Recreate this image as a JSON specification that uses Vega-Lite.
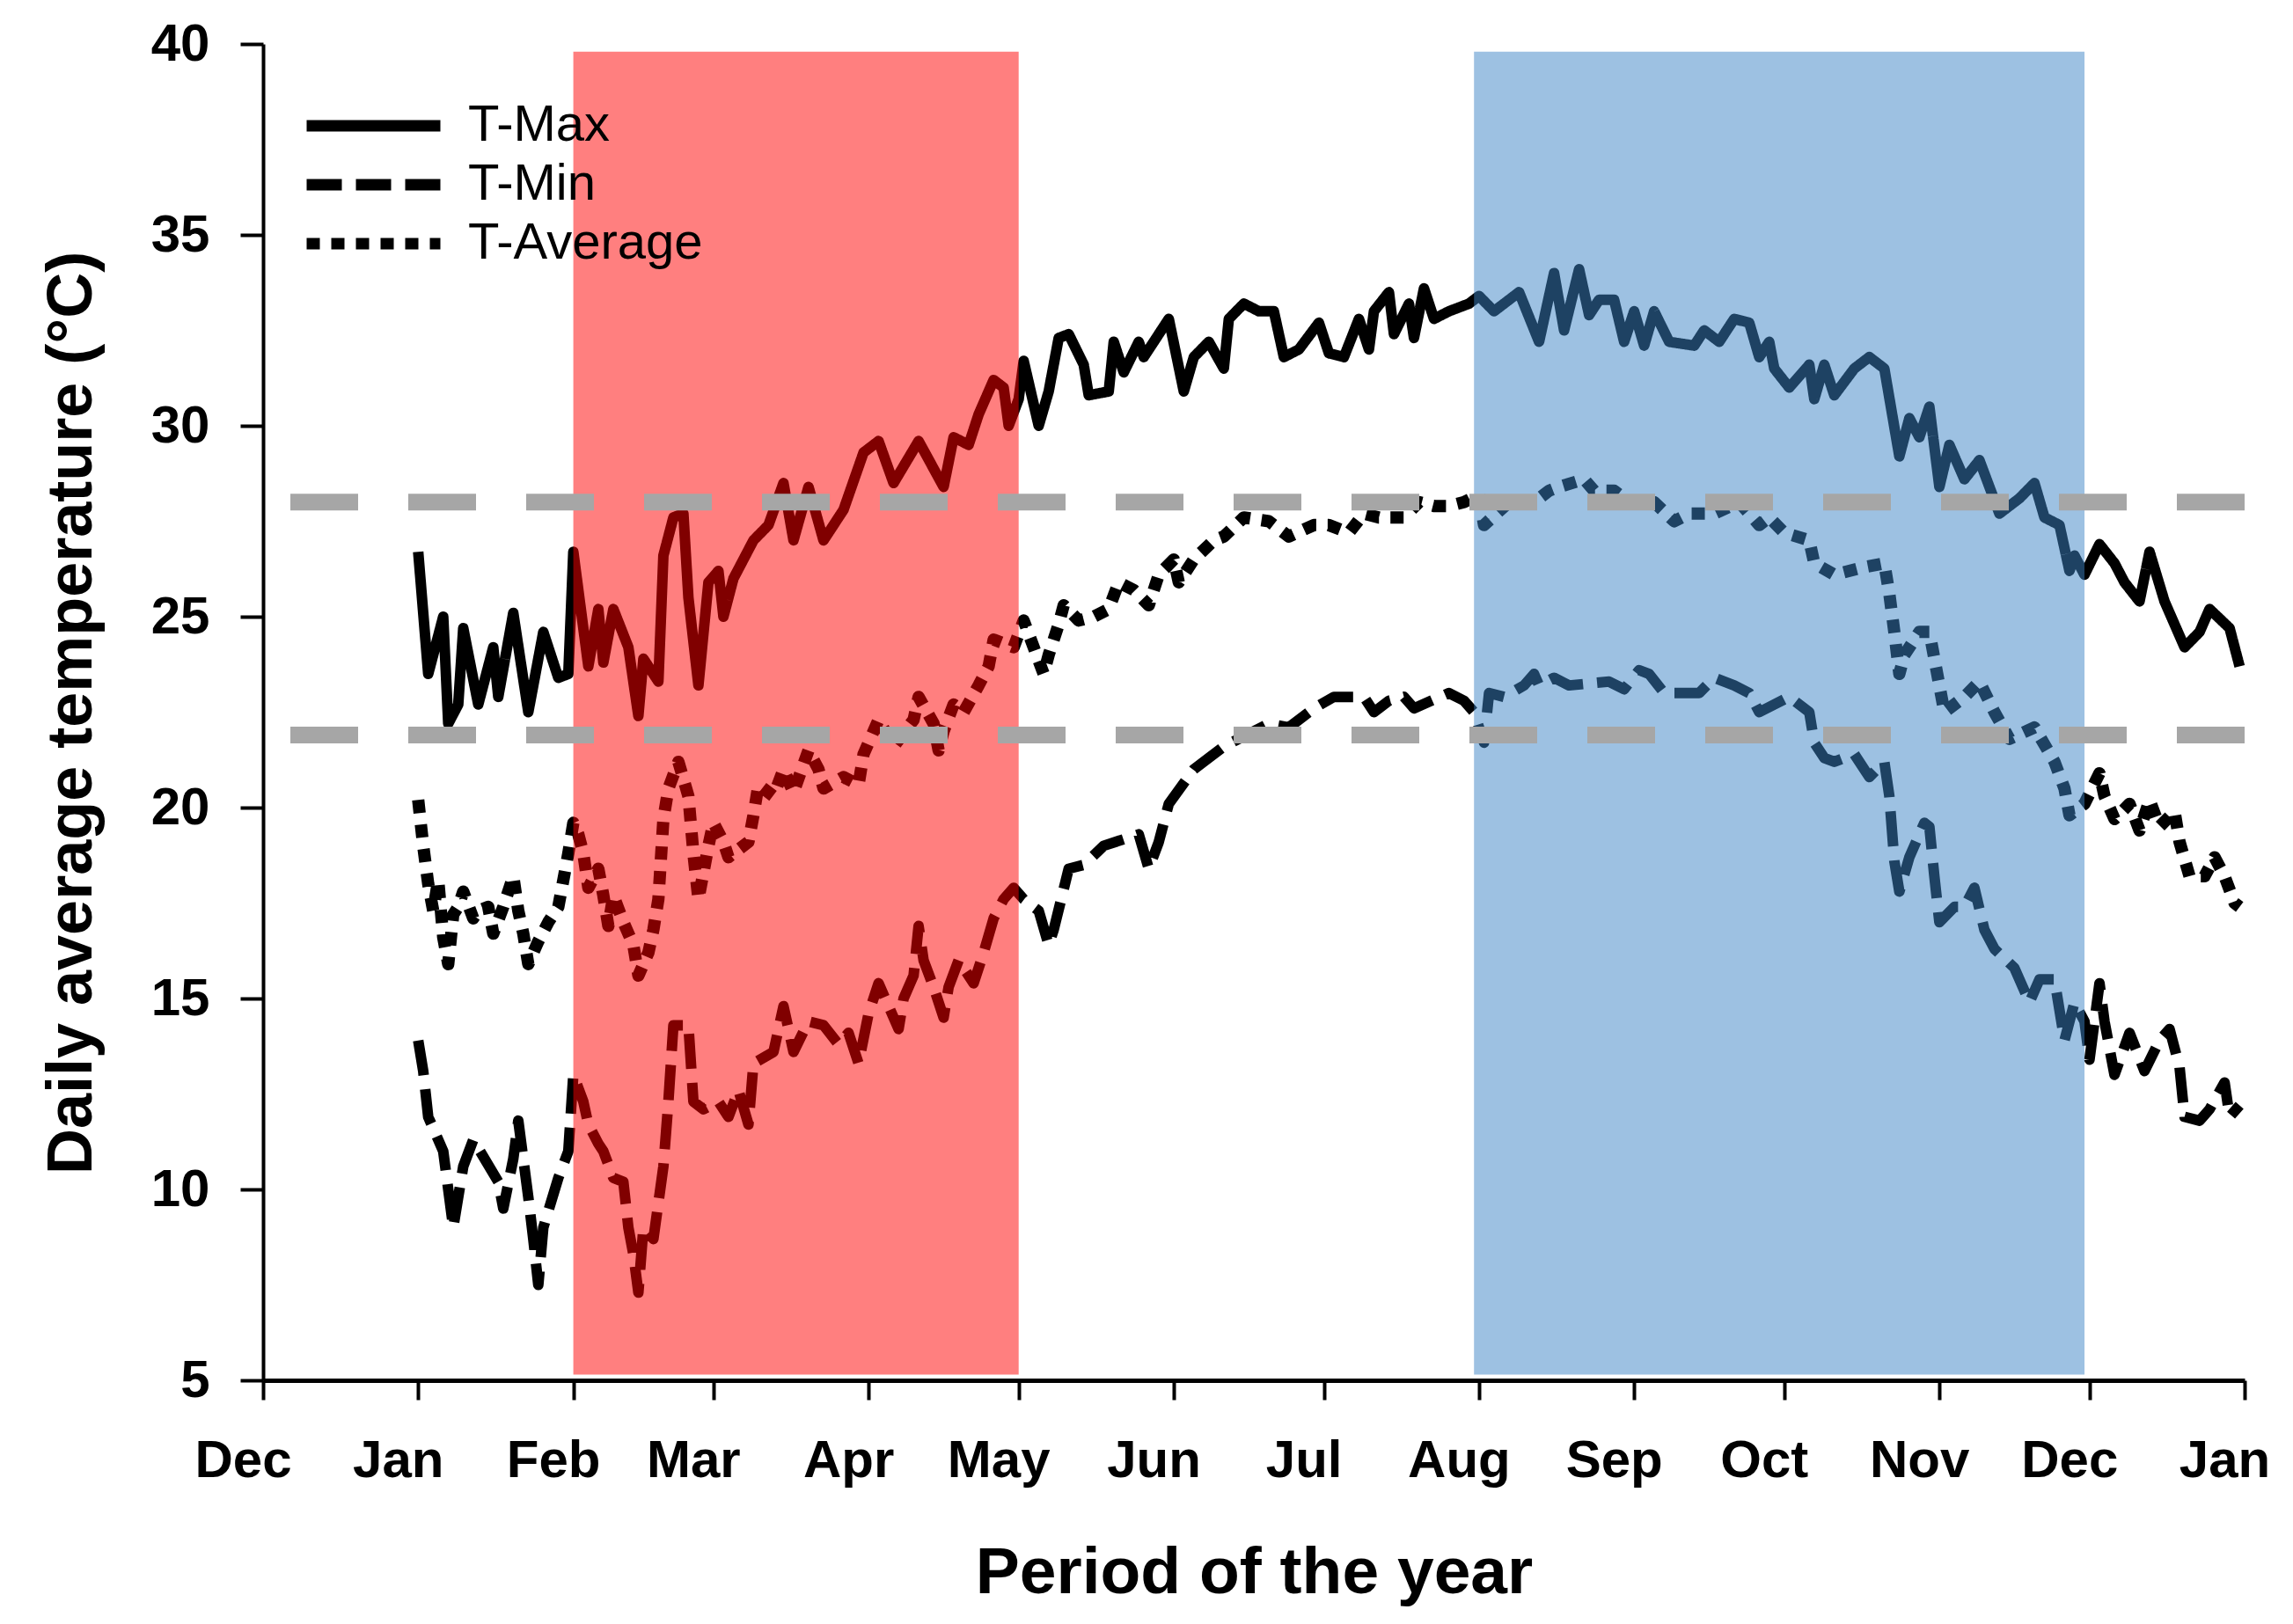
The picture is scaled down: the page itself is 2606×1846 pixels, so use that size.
{
 "$schema": "https://vega.github.io/schema/vega-lite/v6.json",
 "width": 2252,
 "height": 1519,
 "autosize": {"type": "none"},
 "padding": {"left": 299, "top": 50, "right": 55, "bottom": 277},
 "background": "white",
 "config": {"view": {"stroke": null}, "font": "Liberation Sans"},
 "datasets": {
  "tmax": [
   {"date":"2015-01-01","t":26.7},{"date":"2015-01-03","t":23.5},{"date":"2015-01-06","t":25.0},{"date":"2015-01-07","t":22.2},{"date":"2015-01-09","t":22.7},{"date":"2015-01-10","t":24.7},{"date":"2015-01-13","t":22.7},{"date":"2015-01-16","t":24.2},{"date":"2015-01-17","t":22.9},{"date":"2015-01-20","t":25.1},{"date":"2015-01-23","t":22.5},{"date":"2015-01-26","t":24.6},{"date":"2015-01-29","t":23.4},{"date":"2015-01-31","t":23.5},
   {"date":"2015-02-01","t":26.7},{"date":"2015-02-03","t":24.7},{"date":"2015-02-04","t":23.7},{"date":"2015-02-06","t":25.2},{"date":"2015-02-07","t":23.8},{"date":"2015-02-09","t":25.2},{"date":"2015-02-12","t":24.2},{"date":"2015-02-14","t":22.4},{"date":"2015-02-15","t":23.9},{"date":"2015-02-18","t":23.3},{"date":"2015-02-19","t":26.6},{"date":"2015-02-21","t":27.6},{"date":"2015-02-23","t":27.7},{"date":"2015-02-24","t":25.5},{"date":"2015-02-26","t":23.2},{"date":"2015-02-28","t":25.9},
   {"date":"2015-03-02","t":26.2},{"date":"2015-03-03","t":25.0},{"date":"2015-03-05","t":26.0},{"date":"2015-03-09","t":27.0},{"date":"2015-03-12","t":27.4},{"date":"2015-03-15","t":28.5},{"date":"2015-03-17","t":27.0},{"date":"2015-03-20","t":28.4},{"date":"2015-03-23","t":27.0},{"date":"2015-03-27","t":27.8},{"date":"2015-03-31","t":29.3},
   {"date":"2015-04-03","t":29.6},{"date":"2015-04-06","t":28.5},{"date":"2015-04-11","t":29.6},{"date":"2015-04-16","t":28.4},{"date":"2015-04-18","t":29.7},{"date":"2015-04-21","t":29.5},{"date":"2015-04-23","t":30.3},{"date":"2015-04-26","t":31.2},{"date":"2015-04-28","t":31.0},{"date":"2015-04-29","t":30.0},
   {"date":"2015-05-01","t":30.7},{"date":"2015-05-02","t":31.7},{"date":"2015-05-05","t":30.0},{"date":"2015-05-07","t":30.9},{"date":"2015-05-09","t":32.3},{"date":"2015-05-11","t":32.4},{"date":"2015-05-14","t":31.6},{"date":"2015-05-15","t":30.8},{"date":"2015-05-19","t":30.9},{"date":"2015-05-20","t":32.2},{"date":"2015-05-22","t":31.4},{"date":"2015-05-25","t":32.2},{"date":"2015-05-26","t":31.8},{"date":"2015-05-31","t":32.8},
   {"date":"2015-06-03","t":30.9},{"date":"2015-06-05","t":31.8},{"date":"2015-06-08","t":32.2},{"date":"2015-06-11","t":31.5},{"date":"2015-06-12","t":32.8},{"date":"2015-06-15","t":33.2},{"date":"2015-06-18","t":33.0},{"date":"2015-06-21","t":33.0},{"date":"2015-06-23","t":31.8},{"date":"2015-06-26","t":32.0},{"date":"2015-06-30","t":32.7},
   {"date":"2015-07-02","t":31.9},{"date":"2015-07-05","t":31.8},{"date":"2015-07-08","t":32.8},{"date":"2015-07-10","t":32.0},{"date":"2015-07-11","t":33.0},{"date":"2015-07-14","t":33.5},{"date":"2015-07-15","t":32.4},{"date":"2015-07-18","t":33.2},{"date":"2015-07-19","t":32.3},{"date":"2015-07-21","t":33.6},{"date":"2015-07-23","t":32.8},{"date":"2015-07-26","t":33.0},{"date":"2015-07-30","t":33.2},
   {"date":"2015-08-01","t":33.4},{"date":"2015-08-04","t":33.0},{"date":"2015-08-09","t":33.5},{"date":"2015-08-13","t":32.2},{"date":"2015-08-16","t":34.0},{"date":"2015-08-18","t":32.5},{"date":"2015-08-21","t":34.1},{"date":"2015-08-23","t":32.9},{"date":"2015-08-25","t":33.3},{"date":"2015-08-28","t":33.3},{"date":"2015-08-30","t":32.2},
   {"date":"2015-09-01","t":33.0},{"date":"2015-09-03","t":32.1},{"date":"2015-09-05","t":33.0},{"date":"2015-09-08","t":32.2},{"date":"2015-09-13","t":32.1},{"date":"2015-09-15","t":32.5},{"date":"2015-09-18","t":32.2},{"date":"2015-09-21","t":32.8},{"date":"2015-09-24","t":32.7},{"date":"2015-09-26","t":31.8},{"date":"2015-09-28","t":32.2},{"date":"2015-09-29","t":31.5},
   {"date":"2015-10-02","t":31.0},{"date":"2015-10-06","t":31.6},{"date":"2015-10-07","t":30.7},{"date":"2015-10-09","t":31.6},{"date":"2015-10-11","t":30.8},{"date":"2015-10-15","t":31.5},{"date":"2015-10-18","t":31.8},{"date":"2015-10-21","t":31.5},{"date":"2015-10-24","t":29.2},{"date":"2015-10-26","t":30.2},{"date":"2015-10-28","t":29.7},{"date":"2015-10-30","t":30.5},
   {"date":"2015-11-01","t":28.4},{"date":"2015-11-03","t":29.5},{"date":"2015-11-06","t":28.6},{"date":"2015-11-09","t":29.1},{"date":"2015-11-13","t":27.7},{"date":"2015-11-17","t":28.1},{"date":"2015-11-20","t":28.5},{"date":"2015-11-22","t":27.6},{"date":"2015-11-25","t":27.4},{"date":"2015-11-27","t":26.2},{"date":"2015-11-28","t":26.6},{"date":"2015-11-30","t":26.1},
   {"date":"2015-12-03","t":26.9},{"date":"2015-12-06","t":26.4},{"date":"2015-12-08","t":25.9},{"date":"2015-12-11","t":25.4},{"date":"2015-12-13","t":26.7},{"date":"2015-12-16","t":25.4},{"date":"2015-12-20","t":24.2},{"date":"2015-12-23","t":24.6},{"date":"2015-12-25","t":25.2},{"date":"2015-12-29","t":24.7},{"date":"2015-12-31","t":23.7}
  ],
  "tmin": [
   {"date":"2015-01-01","t":13.9},{"date":"2015-01-02","t":13.1},{"date":"2015-01-03","t":11.9},{"date":"2015-01-04","t":11.6},{"date":"2015-01-06","t":11.0},{"date":"2015-01-07","t":10.0},{"date":"2015-01-08","t":9.0},{"date":"2015-01-10","t":10.6},{"date":"2015-01-12","t":11.3},{"date":"2015-01-17","t":10.2},{"date":"2015-01-18","t":9.5},{"date":"2015-01-20","t":10.8},{"date":"2015-01-21","t":11.8},{"date":"2015-01-23","t":9.8},{"date":"2015-01-24","t":8.7},{"date":"2015-01-25","t":7.5},{"date":"2015-01-26","t":9.0},{"date":"2015-01-29","t":10.3},{"date":"2015-01-31","t":11.0},
   {"date":"2015-02-01","t":13.0},{"date":"2015-02-03","t":12.3},{"date":"2015-02-04","t":11.7},{"date":"2015-02-06","t":11.2},{"date":"2015-02-07","t":11.0},{"date":"2015-02-09","t":10.3},{"date":"2015-02-11","t":10.2},{"date":"2015-02-12","t":9.0},{"date":"2015-02-13","t":8.3},{"date":"2015-02-14","t":7.3},{"date":"2015-02-15","t":9.0},{"date":"2015-02-17","t":8.7},{"date":"2015-02-19","t":10.6},{"date":"2015-02-20","t":12.3},{"date":"2015-02-21","t":14.3},{"date":"2015-02-24","t":14.3},{"date":"2015-02-25","t":12.3},{"date":"2015-02-27","t":12.1},
   {"date":"2015-03-02","t":12.3},{"date":"2015-03-04","t":11.9},{"date":"2015-03-06","t":12.6},{"date":"2015-03-08","t":11.7},{"date":"2015-03-09","t":13.3},{"date":"2015-03-13","t":13.6},{"date":"2015-03-15","t":14.8},{"date":"2015-03-17","t":13.6},{"date":"2015-03-20","t":14.4},{"date":"2015-03-23","t":14.3},{"date":"2015-03-26","t":13.8},{"date":"2015-03-28","t":14.1},{"date":"2015-03-30","t":13.3},
   {"date":"2015-04-01","t":14.6},{"date":"2015-04-03","t":15.4},{"date":"2015-04-06","t":14.5},{"date":"2015-04-07","t":14.2},{"date":"2015-04-08","t":15.0},{"date":"2015-04-10","t":15.6},{"date":"2015-04-11","t":16.9},{"date":"2015-04-12","t":16.0},{"date":"2015-04-14","t":15.3},{"date":"2015-04-16","t":14.5},{"date":"2015-04-17","t":15.3},{"date":"2015-04-19","t":16.0},{"date":"2015-04-22","t":15.4},{"date":"2015-04-24","t":16.2},{"date":"2015-04-26","t":17.1},{"date":"2015-04-28","t":17.6},{"date":"2015-04-30","t":17.9},
   {"date":"2015-05-02","t":17.6},{"date":"2015-05-05","t":17.3},{"date":"2015-05-07","t":16.4},{"date":"2015-05-08","t":16.8},{"date":"2015-05-11","t":18.4},{"date":"2015-05-14","t":18.5},{"date":"2015-05-18","t":19.0},{"date":"2015-05-25","t":19.3},{"date":"2015-05-27","t":18.4},{"date":"2015-05-29","t":19.1},{"date":"2015-05-31","t":20.1},
   {"date":"2015-06-05","t":21.0},{"date":"2015-06-08","t":21.3},{"date":"2015-06-11","t":21.6},{"date":"2015-06-20","t":22.2},{"date":"2015-06-24","t":22.1},{"date":"2015-06-29","t":22.6},
   {"date":"2015-07-03","t":22.9},{"date":"2015-07-09","t":22.9},{"date":"2015-07-11","t":22.5},{"date":"2015-07-14","t":22.8},{"date":"2015-07-17","t":22.9},{"date":"2015-07-19","t":22.6},{"date":"2015-07-26","t":23.0},{"date":"2015-07-29","t":22.8},{"date":"2015-07-31","t":22.5},
   {"date":"2015-08-02","t":21.7},{"date":"2015-08-03","t":23.0},{"date":"2015-08-06","t":22.9},{"date":"2015-08-10","t":23.2},{"date":"2015-08-12","t":23.5},{"date":"2015-08-13","t":23.2},{"date":"2015-08-16","t":23.4},{"date":"2015-08-19","t":23.2},{"date":"2015-08-27","t":23.3},{"date":"2015-08-30","t":23.1},
   {"date":"2015-09-02","t":23.6},{"date":"2015-09-04","t":23.5},{"date":"2015-09-07","t":23.0},{"date":"2015-09-09","t":23.0},{"date":"2015-09-14","t":23.0},{"date":"2015-09-17","t":23.4},{"date":"2015-09-21","t":23.2},{"date":"2015-09-24","t":23.0},{"date":"2015-09-26","t":22.5},
   {"date":"2015-10-02","t":22.9},{"date":"2015-10-06","t":22.5},{"date":"2015-10-07","t":21.7},{"date":"2015-10-09","t":21.3},{"date":"2015-10-11","t":21.2},{"date":"2015-10-15","t":21.4},{"date":"2015-10-18","t":20.8},{"date":"2015-10-21","t":21.2},{"date":"2015-10-22","t":20.3},{"date":"2015-10-23","t":18.6},{"date":"2015-10-24","t":17.8},{"date":"2015-10-26","t":18.7},{"date":"2015-10-29","t":19.6},{"date":"2015-10-30","t":19.5},{"date":"2015-10-31","t":18.2},
   {"date":"2015-11-01","t":17.0},{"date":"2015-11-04","t":17.4},{"date":"2015-11-06","t":17.4},{"date":"2015-11-08","t":17.9},{"date":"2015-11-10","t":16.8},{"date":"2015-11-12","t":16.3},{"date":"2015-11-16","t":15.8},{"date":"2015-11-19","t":14.9},{"date":"2015-11-21","t":15.5},{"date":"2015-11-24","t":15.5},{"date":"2015-11-25","t":14.7},{"date":"2015-11-26","t":13.9},{"date":"2015-11-28","t":14.9},{"date":"2015-11-30","t":14.4},
   {"date":"2015-12-01","t":13.4},{"date":"2015-12-03","t":15.4},{"date":"2015-12-04","t":14.4},{"date":"2015-12-06","t":13.0},{"date":"2015-12-09","t":14.1},{"date":"2015-12-12","t":13.1},{"date":"2015-12-15","t":13.9},{"date":"2015-12-17","t":14.2},{"date":"2015-12-19","t":13.2},{"date":"2015-12-20","t":11.9},{"date":"2015-12-23","t":11.8},{"date":"2015-12-25","t":12.1},{"date":"2015-12-28","t":12.8},{"date":"2015-12-29","t":11.9},{"date":"2015-12-31","t":12.2}
  ],
  "tavg": [
   {"date":"2015-01-01","t":20.2},{"date":"2015-01-02","t":19.0},{"date":"2015-01-03","t":18.0},{"date":"2015-01-04","t":17.3},{"date":"2015-01-05","t":18.1},{"date":"2015-01-06","t":16.6},{"date":"2015-01-07","t":15.9},{"date":"2015-01-08","t":17.2},{"date":"2015-01-09","t":17.4},{"date":"2015-01-10","t":17.8},{"date":"2015-01-12","t":17.1},{"date":"2015-01-13","t":17.3},{"date":"2015-01-15","t":17.4},{"date":"2015-01-16","t":16.7},{"date":"2015-01-18","t":17.4},{"date":"2015-01-20","t":18.2},{"date":"2015-01-21","t":17.3},{"date":"2015-01-22","t":16.7},{"date":"2015-01-23","t":15.9},{"date":"2015-01-25","t":16.5},{"date":"2015-01-27","t":17.0},{"date":"2015-01-29","t":17.4},{"date":"2015-01-30","t":18.1},{"date":"2015-01-31","t":18.8},
   {"date":"2015-02-01","t":19.6},{"date":"2015-02-02","t":19.3},{"date":"2015-02-03","t":18.8},{"date":"2015-02-04","t":17.9},{"date":"2015-02-06","t":18.4},{"date":"2015-02-07","t":17.7},{"date":"2015-02-08","t":16.9},{"date":"2015-02-09","t":17.7},{"date":"2015-02-11","t":17.0},{"date":"2015-02-13","t":16.4},{"date":"2015-02-14","t":15.6},{"date":"2015-02-16","t":16.2},{"date":"2015-02-17","t":16.8},{"date":"2015-02-18","t":17.6},{"date":"2015-02-19","t":19.7},{"date":"2015-02-20","t":20.5},{"date":"2015-02-22","t":21.2},{"date":"2015-02-24","t":20.3},{"date":"2015-02-25","t":18.8},{"date":"2015-02-26","t":17.6},{"date":"2015-02-28","t":19.0},
   {"date":"2015-03-01","t":19.6},{"date":"2015-03-03","t":19.1},{"date":"2015-03-04","t":18.7},{"date":"2015-03-08","t":19.1},{"date":"2015-03-09","t":19.8},{"date":"2015-03-10","t":20.6},{"date":"2015-03-13","t":20.3},{"date":"2015-03-15","t":21.0},{"date":"2015-03-17","t":20.4},{"date":"2015-03-20","t":21.5},{"date":"2015-03-22","t":21.0},{"date":"2015-03-23","t":20.5},{"date":"2015-03-27","t":20.8},{"date":"2015-03-30","t":20.6},{"date":"2015-03-31","t":21.4},
   {"date":"2015-04-03","t":22.3},{"date":"2015-04-06","t":21.6},{"date":"2015-04-10","t":22.3},{"date":"2015-04-11","t":22.9},{"date":"2015-04-14","t":22.2},{"date":"2015-04-15","t":21.5},{"date":"2015-04-16","t":22.0},{"date":"2015-04-18","t":22.7},{"date":"2015-04-20","t":22.5},{"date":"2015-04-23","t":23.2},{"date":"2015-04-25","t":23.7},{"date":"2015-04-26","t":24.4},{"date":"2015-04-30","t":24.2},
   {"date":"2015-05-02","t":24.9},{"date":"2015-05-04","t":24.2},{"date":"2015-05-06","t":23.5},{"date":"2015-05-07","t":24.0},{"date":"2015-05-09","t":24.8},{"date":"2015-05-10","t":25.3},{"date":"2015-05-13","t":24.9},{"date":"2015-05-16","t":25.0},{"date":"2015-05-19","t":25.2},{"date":"2015-05-21","t":25.9},{"date":"2015-05-24","t":25.7},{"date":"2015-05-27","t":25.3},{"date":"2015-05-29","t":26.1},
   {"date":"2015-06-01","t":26.5},{"date":"2015-06-02","t":25.9},{"date":"2015-06-05","t":26.5},{"date":"2015-06-09","t":27.0},{"date":"2015-06-11","t":27.1},{"date":"2015-06-15","t":27.6},{"date":"2015-06-20","t":27.5},{"date":"2015-06-24","t":27.1},{"date":"2015-06-29","t":27.4},
   {"date":"2015-07-02","t":27.4},{"date":"2015-07-06","t":27.2},{"date":"2015-07-09","t":27.7},{"date":"2015-07-12","t":27.6},{"date":"2015-07-17","t":27.6},{"date":"2015-07-20","t":28.0},{"date":"2015-07-23","t":27.9},{"date":"2015-07-26","t":27.9},{"date":"2015-07-29","t":28.0},
   {"date":"2015-08-01","t":28.2},{"date":"2015-08-02","t":27.4},{"date":"2015-08-07","t":28.0},{"date":"2015-08-12","t":28.0},{"date":"2015-08-15","t":28.3},{"date":"2015-08-17","t":28.4},{"date":"2015-08-22","t":28.6},{"date":"2015-08-24","t":28.3},{"date":"2015-08-28","t":28.3},{"date":"2015-08-31","t":28.0},
   {"date":"2015-09-05","t":28.0},{"date":"2015-09-09","t":27.5},{"date":"2015-09-12","t":27.7},{"date":"2015-09-17","t":27.7},{"date":"2015-09-22","t":28.0},{"date":"2015-09-26","t":27.4},{"date":"2015-09-28","t":27.6},
   {"date":"2015-10-01","t":27.2},{"date":"2015-10-06","t":27.0},{"date":"2015-10-07","t":26.4},{"date":"2015-10-11","t":26.1},{"date":"2015-10-17","t":26.3},{"date":"2015-10-21","t":26.4},{"date":"2015-10-22","t":25.6},{"date":"2015-10-23","t":24.6},{"date":"2015-10-24","t":23.5},{"date":"2015-10-25","t":24.0},{"date":"2015-10-28","t":24.6},{"date":"2015-10-30","t":24.6},{"date":"2015-10-31","t":23.9},
   {"date":"2015-11-01","t":23.2},{"date":"2015-11-02","t":22.5},{"date":"2015-11-06","t":22.9},{"date":"2015-11-09","t":23.3},{"date":"2015-11-12","t":22.5},{"date":"2015-11-15","t":21.8},{"date":"2015-11-20","t":22.1},{"date":"2015-11-24","t":21.2},{"date":"2015-11-26","t":20.5},{"date":"2015-11-27","t":19.8},{"date":"2015-11-30","t":20.1},
   {"date":"2015-12-03","t":20.9},{"date":"2015-12-04","t":20.3},{"date":"2015-12-06","t":19.7},{"date":"2015-12-09","t":20.1},{"date":"2015-12-11","t":19.4},{"date":"2015-12-13","t":20.2},{"date":"2015-12-15","t":19.5},{"date":"2015-12-18","t":19.9},{"date":"2015-12-19","t":19.1},{"date":"2015-12-21","t":18.2},{"date":"2015-12-24","t":18.2},{"date":"2015-12-26","t":18.7},{"date":"2015-12-28","t":18.2},{"date":"2015-12-30","t":17.5},{"date":"2015-12-31","t":17.4}
  ],
  "periods": [
   {"start":"2015-02-01","end":"2015-05-01","period":"warm"},
   {"start":"2015-07-31","end":"2015-11-30","period":"cool"}
  ],
  "thresholds": [{"t":28.0},{"t":21.9}]
 },
 "layer": [
  {
   "data": {"name": "tmax"},
   "mark": {"type": "line", "stroke": "black", "strokeWidth": 12, "strokeJoin": "round"},
   "encoding": {
    "x": {"field": "date", "type": "temporal", "title": "Period of the year",
     "scale": {"type": "utc", "domain": [{"year":2014,"month":12,"date":1,"utc":true},{"year":2016,"month":1,"date":1,"utc":true}]},
     "axis": {
      "values": [{"year":2014,"month":12,"date":1,"utc":true},{"year":2015,"month":1,"date":1,"utc":true},{"year":2015,"month":2,"date":1,"utc":true},{"year":2015,"month":3,"date":1,"utc":true},{"year":2015,"month":4,"date":1,"utc":true},{"year":2015,"month":5,"date":1,"utc":true},{"year":2015,"month":6,"date":1,"utc":true},{"year":2015,"month":7,"date":1,"utc":true},{"year":2015,"month":8,"date":1,"utc":true},{"year":2015,"month":9,"date":1,"utc":true},{"year":2015,"month":10,"date":1,"utc":true},{"year":2015,"month":11,"date":1,"utc":true},{"year":2015,"month":12,"date":1,"utc":true},{"year":2016,"month":1,"date":1,"utc":true}],
      "labelExpr": "utcFormat(datum.value, '%b')",
      "grid": false,
      "domainColor": "black", "domainWidth": 5,
      "tickColor": "black", "tickWidth": 4, "tickSize": 22,
      "labelFont": "Liberation Sans", "labelFontSize": 60, "labelFontWeight": "bold", "labelColor": "black",
      "labelBaseline": "alphabetic", "labelPadding": 87, "labelOffset": -23, "labelLimit": 0,
      "labelFlush": false, "labelOverlap": false, "labelBound": false,
      "titleFont": "Liberation Sans", "titleFontSize": 75, "titleFontWeight": "bold", "titleColor": "black",
      "titleBaseline": "alphabetic", "titleY": 241
     }},
    "y": {"field": "t", "type": "quantitative", "title": "Daily average temperature (°C)",
     "scale": {"domain": [5, 40], "nice": false, "zero": false},
     "axis": {
      "values": [5, 10, 15, 20, 25, 30, 35, 40],
      "grid": false,
      "domainColor": "black", "domainWidth": 4,
      "tickColor": "black", "tickWidth": 4, "tickSize": 26,
      "labelFont": "Liberation Sans", "labelFontSize": 60, "labelFontWeight": "bold", "labelColor": "black",
      "labelPadding": 35, "labelFlush": false, "labelOverlap": false,
      "titleFont": "Liberation Sans", "titleFontSize": 72, "titleFontWeight": "bold", "titleColor": "black",
      "titleAngle": 270, "titleBaseline": "alphabetic", "titleX": -196, "titleY": 760
     }},
    "strokeDash": {"datum": "T-Max",
     "scale": {"domain": ["T-Max", "T-Min", "T-Average"], "range": [[1, 0], [40, 16], [15, 13]]},
     "legend": {
      "title": null, "orient": "none", "legendX": 43, "legendY": 64, "padding": 0,
      "symbolType": "stroke", "symbolSize": 23104, "symbolStrokeWidth": 13, "symbolStrokeColor": "black",
      "clipHeight": 58, "rowPadding": 9,
      "labelFont": "Liberation Sans", "labelFontSize": 58, "labelColor": "black", "labelOffset": 25, "labelLimit": 0
     }}
   }
  },
  {
   "data": {"name": "tmin"},
   "mark": {"type": "line", "stroke": "black", "strokeWidth": 12, "strokeJoin": "round"},
   "encoding": {
    "x": {"field": "date", "type": "temporal", "title": "Period of the year"},
    "y": {"field": "t", "type": "quantitative", "title": "Daily average temperature (°C)"},
    "strokeDash": {"datum": "T-Min"}
   }
  },
  {
   "data": {"name": "tavg"},
   "mark": {"type": "line", "stroke": "black", "strokeWidth": 14, "strokeJoin": "round"},
   "encoding": {
    "x": {"field": "date", "type": "temporal", "title": "Period of the year"},
    "y": {"field": "t", "type": "quantitative", "title": "Daily average temperature (°C)"},
    "strokeDash": {"datum": "T-Average"}
   }
  },
  {
   "data": {"name": "periods"},
   "mark": {"type": "rect", "fillOpacity": 0.5, "strokeWidth": 0},
   "encoding": {
    "x": {"field": "start", "type": "temporal", "title": "Period of the year"},
    "x2": {"field": "end"},
    "y": {"datum": 5.15, "type": "quantitative"},
    "y2": {"datum": 39.8},
    "fill": {"field": "period", "type": "nominal", "scale": {"domain": ["warm", "cool"], "range": ["#ff0000", "#3b83c5"]}, "legend": null}
   }
  },
  {
   "data": {"name": "thresholds"},
   "mark": {"type": "rule", "stroke": "#a6a6a6", "strokeWidth": 19, "strokeDash": [77, 57]},
   "encoding": {
    "y": {"field": "t", "type": "quantitative", "title": "Daily average temperature (°C)"}
   }
  }
 ]
}
